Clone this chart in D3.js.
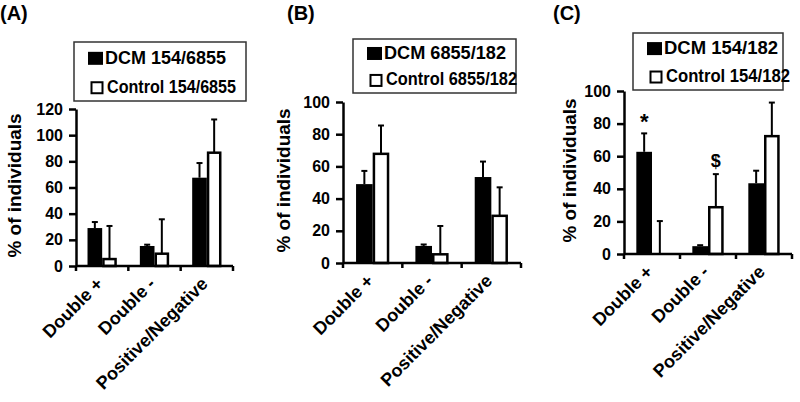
<!DOCTYPE html>
<html><head><meta charset="utf-8">
<script src="https://cdn.jsdelivr.net/npm/d3@7"></script>
<style>
html,body{margin:0;padding:0;background:#fff;}
text{font-family:"Liberation Sans",Arial,sans-serif;font-weight:bold;fill:#000;}
</style></head>
<body>
<svg id="chart" width="800" height="402"></svg>
<script>
const categories = ["Double +", "Double -", "Positive/Negative"];
const yTicksA = [0, 20, 40, 60, 80, 100, 120];
const yTicksBC = [0, 20, 40, 60, 80, 100];

const dcmA = [29, 15.3, 67.5];
const dcmErrA = [4.6, 1, 11.2];
const ctrlA = [5.3, 9.4, 86.6];
const ctrlErrA = [25.3, 26.3, 25.4];

const dcmB = [49, 10.6, 53.4];
const dcmErrB = [8.2, 0.9, 9.6];
const ctrlB = [67.8, 5.4, 29.3];
const ctrlErrB = [17.6, 17.6, 17.7];

const dcmC = [62.7, 4.8, 43.4];
const dcmErrC = [11.3, 0.6, 7.7];
const ctrlC = [0, 28.7, 72.3];
const ctrlErrC = [20.2, 20.3, 20.6];

const svg = d3.select("#chart");

const panels = [
  {title:"(A)", tx:0, ty:20, x0:76, x1:233, y0:266, y1:109, ymax:120, ticks:yTicksA,
   dcm:dcmA, dcmErr:dcmErrA, ctrl:ctrlA, ctrlErr:ctrlErrA,
   leg:["DCM 154/6855","Control 154/6855"], legLen:[121,129], lx:74, ly:42, lw:172, lh:59, ylabX:21,
   notes:[]},
  {title:"(B)", tx:287, ty:20, x0:343, x1:521, y0:263, y1:102, ymax:100, ticks:yTicksBC,
   dcm:dcmB, dcmErr:dcmErrB, ctrl:ctrlB, ctrlErr:ctrlErrB,
   leg:["DCM 6855/182","Control 6855/182"], legLen:[122,131], lx:353, ly:39, lw:163, lh:54, ylabX:290,
   notes:[]},
  {title:"(C)", tx:553, ty:20, x0:624, x1:792, y0:254, y1:91, ymax:100, ticks:yTicksBC,
   dcm:dcmC, dcmErr:dcmErrC, ctrl:ctrlC, ctrlErr:ctrlErrC,
   leg:["DCM 154/182","Control 154/182"], legLen:[114,124], lx:633, ly:33, lw:150, lh:57, ylabX:576,
   notes:[{series:"dcm", i:0, label:"*"},{series:"ctrl", i:1, label:"$"}]}
];

panels.forEach(p => {
  const g = svg.append("g");
  const x = d3.scaleBand().domain(categories).range([p.x0, p.x1]).padding(0);
  const y = d3.scaleLinear().domain([0, p.ymax]).range([p.y0, p.y1]);
  const bw = x.bandwidth() * 0.28;

  // title
  g.append("text").attr("x", p.tx).attr("y", p.ty).attr("font-size", 20).text(p.title);

  // bars
  const series = [
    {key:"dcm", vals:p.dcm, errs:p.dcmErr, off:-bw},
    {key:"ctrl", vals:p.ctrl, errs:p.ctrlErr, off:0}
  ];
  series.forEach(s => {
    categories.forEach((c, i) => {
      const cx = x(c) + x.bandwidth()/2 + s.off;
      const v = s.vals[i];
      const top = y(v + s.errs[i]);
      const mid = cx + bw/2;
      g.append("line").attr("x1", mid).attr("x2", mid).attr("y1", y(v)).attr("y2", top)
        .attr("stroke", "#000").attr("stroke-width", 2);
      g.append("line").attr("x1", mid-3).attr("x2", mid+3).attr("y1", top).attr("y2", top)
        .attr("stroke", "#000").attr("stroke-width", 2);
      if (v > 0) {
        if (s.key === "dcm") {
          g.append("rect").attr("x", cx).attr("y", y(v)).attr("width", bw).attr("height", y(0)-y(v))
            .attr("fill", "#000");
        } else {
          g.append("rect").attr("x", cx+1.25).attr("y", y(v)).attr("width", bw-2.5).attr("height", y(0)-y(v))
            .attr("fill", "#fff").attr("stroke", "#000").attr("stroke-width", 2.5);
        }
      }
    });
  });

  // annotations
  p.notes.forEach(n => {
    const s = n.series === "dcm" ? {vals:p.dcm, errs:p.dcmErr, off:-bw} : {vals:p.ctrl, errs:p.ctrlErr, off:0};
    const c = categories[n.i];
    const mid = x(c) + x.bandwidth()/2 + s.off + bw/2;
    const top = y(s.vals[n.i] + s.errs[n.i]);
    g.append("text").attr("x", mid).attr("y", top - (n.label === "*" ? 4 : 7)).attr("text-anchor", "middle")
      .attr("font-size", n.label === "*" ? 22 : 18).text(n.label);
  });

  // y axis
  const ya = g.append("g").attr("transform", `translate(${p.x0},0)`)
    .call(d3.axisLeft(y).tickValues(p.ticks).tickSize(7).tickPadding(6).tickSizeOuter(0));
  ya.selectAll("path.domain").attr("stroke", "#000").attr("stroke-width", 2.5);
  ya.selectAll(".tick line").attr("stroke", "#000").attr("stroke-width", 2.5);
  ya.selectAll(".tick text").attr("font-size", 16).attr("font-family", "Liberation Sans, Arial, sans-serif").attr("font-weight", "bold");

  // x axis
  const xg = g.append("g").attr("transform", `translate(0,${p.y0})`);
  xg.append("line").attr("x1", p.x0).attr("x2", p.x1).attr("y1", 0).attr("y2", 0)
    .attr("stroke", "#000").attr("stroke-width", 2.5);
  const edges = categories.map(c => x(c)).concat([p.x1]);
  edges.forEach(e => {
    xg.append("line").attr("x1", e).attr("x2", e).attr("y1", 0).attr("y2", 5)
      .attr("stroke", "#000").attr("stroke-width", 2.5);
  });
  categories.forEach(c => {
    const cx = x(c) + x.bandwidth()/2 + 2;
    xg.append("text").attr("transform", `translate(${cx},19) rotate(-45)`)
      .attr("text-anchor", "end").attr("font-size", 18).text(c);
  });

  // y label
  g.append("text").attr("transform", `translate(${p.ylabX},${(p.y0 + p.y1)/2 - 2}) rotate(-90)`)
    .attr("text-anchor", "middle").attr("font-size", 18)
    .attr("textLength", 144).attr("lengthAdjust", "spacingAndGlyphs").text("% of individuals");

  // legend
  const lg = g.append("g");
  lg.append("rect").attr("x", p.lx).attr("y", p.ly).attr("width", p.lw).attr("height", p.lh)
    .attr("fill", "#fff").attr("stroke", "#333").attr("stroke-width", 1.5);
  const rowY = [p.ly + p.lh*0.37, p.ly + p.lh*0.86];
  p.leg.forEach((t, i) => {
    const by = rowY[i];
    if (i === 0) {
      lg.append("rect").attr("x", p.lx + 14).attr("y", by - 12).attr("width", 15).attr("height", 13)
        .attr("fill", "#000");
    } else {
      lg.append("rect").attr("x", p.lx + 17.5).attr("y", by - 10.5).attr("width", 11).attr("height", 11)
        .attr("fill", "#fff").attr("stroke", "#000").attr("stroke-width", 2);
    }
    lg.append("text").attr("x", p.lx + (i === 0 ? 31 : 33)).attr("y", by).attr("font-size", 18)
      .attr("textLength", p.legLen[i]).attr("lengthAdjust", "spacingAndGlyphs").text(t);
  });
});
</script>
</body></html>
